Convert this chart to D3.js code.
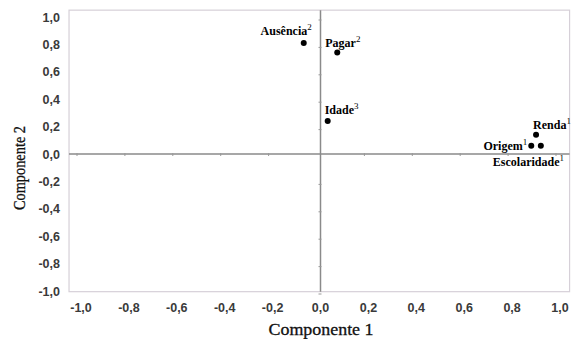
<!DOCTYPE html>
<html><head><meta charset="utf-8">
<script src="https://cdn.jsdelivr.net/npm/d3@7"></script>
<style>body{margin:0;background:#fff}svg{display:block}</style>
</head><body>
<script>
const names = ["Ausência","Pagar","Idade","Renda","Origem","Escolaridade"];
const sups = ["2","2","3","1","1","1"];
const comp1 = [-0.07, 0.07, 0.03, 0.90, 0.88, 0.92];
const comp2 = [0.81, 0.74, 0.24, 0.14, 0.06, 0.06];
const ticks = [-1,-0.8,-0.6,-0.4,-0.2,0,0.2,0.4,0.6,0.8,1];
const tickLabels = ["-1,0","-0,8","-0,6","-0,4","-0,2","0,0","0,2","0,4","0,6","0,8","1,0"];
// label placement (dx, dy, anchor)
const lblPos = [[8,-8,"end"],[-12,-6,"start"],[-3,-7,"start"],[-3,-6,"start"],[-4,4,"end"],[-48,20,"start"]];

const W=573,H=339;
const svg=d3.select("body").append("svg").attr("width",W).attr("height",H);
const x=d3.scaleLinear().domain([-1,1]).range([81,560]);
const y=d3.scaleLinear().domain([-1,1]).range([291,17]);

// frame
svg.append("rect").attr("x",x(-1.05)).attr("y",y(1.05)).attr("width",x(1.04)-x(-1.05)).attr("height",y(-1.005)-y(1.05))
  .attr("fill","none").attr("stroke","#d6d0d8").attr("stroke-width",1.2);

// axes through origin
svg.append("line").attr("x1",x(-1.05)).attr("x2",x(1.04)).attr("y1",y(0)).attr("y2",y(0)).attr("stroke","#8a8a8a").attr("stroke-width",1.5);
svg.append("line").attr("x1",x(0)).attr("x2",x(0)).attr("y1",y(1.05)).attr("y2",y(-1.005)).attr("stroke","#8a8a8a").attr("stroke-width",1.5);
// minor tick marks on the axes
ticks.forEach(t=>{
  if(t!==0){
    svg.append("line").attr("x1",x(t)-4).attr("x2",x(t)-4).attr("y1",y(0)-1).attr("y2",y(0)+2).attr("stroke","#999");
    svg.append("line").attr("x1",x(0)-2).attr("x2",x(0)+1).attr("y1",y(t)+3).attr("y2",y(t)+3).attr("stroke","#999");
  }
});

// tick labels
const tf="Liberation Sans, Arial, sans-serif";
svg.append("g").selectAll("text").data(ticks).join("text")
  .attr("x",d=>x(d)).attr("y",312).attr("text-anchor","middle")
  .attr("font-family",tf).attr("font-weight","bold").attr("font-size",12.5).attr("fill","#3a3a3a")
  .text((d,i)=>tickLabels[i]);
svg.append("g").selectAll("text").data(ticks).join("text")
  .attr("x",60).attr("y",d=>y(d)+4.5).attr("text-anchor","end")
  .attr("font-family",tf).attr("font-weight","bold").attr("font-size",12.5).attr("fill","#3a3a3a")
  .text((d,i)=>tickLabels[i]);

// axis titles
const sf="Liberation Serif, Times New Roman, serif";
svg.append("text").attr("x",321).attr("y",335).attr("text-anchor","middle").attr("font-family",sf)
  .attr("font-size",16.5).attr("fill","#111").attr("stroke","#111").attr("stroke-width",0.3).attr("textLength",105).attr("lengthAdjust","spacingAndGlyphs").text("Componente 1");
svg.append("text").attr("transform","translate(25,168) rotate(-90)").attr("text-anchor","middle").attr("font-family",sf)
  .attr("font-size",16.5).attr("fill","#111").attr("stroke","#111").attr("stroke-width",0.3).attr("textLength",84).attr("lengthAdjust","spacingAndGlyphs").text("Componente 2");

// points
const data=names.map((n,i)=>({n,s:sups[i],cx:comp1[i],cy:comp2[i],p:lblPos[i]}));
svg.append("g").selectAll("circle").data(data).join("circle")
  .attr("cx",d=>x(d.cx)).attr("cy",d=>y(d.cy)).attr("r",3).attr("fill","#000");
const lab=svg.append("g").selectAll("text").data(data).join("text")
  .attr("x",d=>x(d.cx)+d.p[0]).attr("y",d=>y(d.cy)+d.p[1]).attr("text-anchor",d=>d.p[2])
  .attr("font-family",sf).attr("font-weight","bold").attr("font-size",12).attr("fill","#000");
lab.append("tspan").text(d=>d.n);
lab.append("tspan").attr("dy",-5).attr("font-size",9).attr("font-weight","normal").attr("fill","#000").text(d=>d.s);
</script>
</body></html>
